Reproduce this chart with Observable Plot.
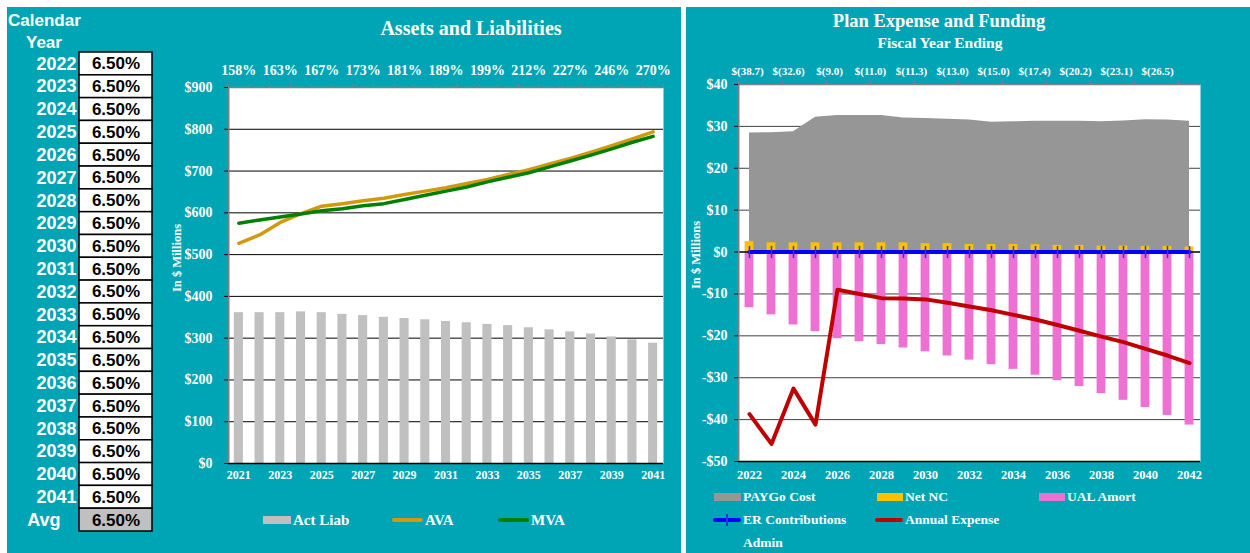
<!DOCTYPE html>
<html><head><meta charset="utf-8">
<script src="https://cdn.jsdelivr.net/npm/d3@7"></script>
<script src="https://cdn.jsdelivr.net/npm/@observablehq/plot@0.6"></script>
<style>
body{margin:0;background:#fff;}
#root{position:relative;width:1250px;height:553px;overflow:hidden;background:#fff;}
.panel{position:absolute;background:#00A5B5;}
.abs{position:absolute;white-space:nowrap;}
.serif{font-family:"Liberation Serif","Times New Roman",serif;font-weight:bold;color:#fff;line-height:1;}
.sans{font-family:"Liberation Sans",Arial,sans-serif;font-weight:bold;color:#fff;line-height:1;}
.leg{position:absolute;display:flex;align-items:center;height:20px;font-family:"Liberation Serif","Times New Roman",serif;font-weight:bold;color:#fff;white-space:nowrap;}
.sw{position:absolute;}
.plotbox{position:absolute;}
</style></head><body>
<div id="root">
  <div class="panel" style="left:7px;top:7px;width:674px;height:546px;"></div>
  <div class="panel" style="left:686px;top:7px;width:564px;height:546px;"></div>

  <div class="abs sans" style="left:8px;top:11.6px;font-size:17px;">Calendar</div>
  <div class="abs sans" style="left:26px;top:33.6px;font-size:17px;">Year</div>

  <div class="abs serif" style="left:271px;width:400px;text-align:center;top:18px;font-size:20px;">Assets and Liabilities</div>
  <div class="abs serif" style="left:739px;width:400px;text-align:center;top:11.8px;font-size:18.5px;">Plan Expense and Funding</div>
  <div class="abs serif" style="left:740px;width:400px;text-align:center;top:35.3px;font-size:15.5px;">Fiscal Year Ending</div>

  <div class="abs serif" style="left:177px;top:258px;font-size:12.5px;transform:translate(-50%,-50%) rotate(-90deg);">In $ Millions</div>
  <div class="abs serif" style="left:696px;top:255px;font-size:12.5px;transform:translate(-50%,-50%) rotate(-90deg);">In $ Millions</div>

  <div id="table" class="plotbox" style="left:0;top:0;"></div>
  <div id="mid" class="plotbox" style="left:160px;top:50px;"></div>
  <div id="right" class="plotbox" style="left:686px;top:60px;"></div>
  <div id="rightTop" class="plotbox" style="left:686px;top:58px;"></div>
  <div id="legends"></div>
</div>
<script>
// ---------- Data ----------
const rateYears = ["2022","2023","2024","2025","2026","2027","2028","2029","2030","2031","2032","2033","2034","2035","2036","2037","2038","2039","2040","2041"];
const rates = [6.5,6.5,6.5,6.5,6.5,6.5,6.5,6.5,6.5,6.5,6.5,6.5,6.5,6.5,6.5,6.5,6.5,6.5,6.5,6.5];
const avgRate = 6.5;

const alYears = [2021,2022,2023,2024,2025,2026,2027,2028,2029,2030,2031,2032,2033,2034,2035,2036,2037,2038,2039,2040,2041];
const actLiab = [361,361,361,363,361,357,354,350,347,344,340,337,333,330,325,320,315,310,303,296,288];
const ava = [527,547,577,598,616,622,629,635,644,652,660,670,680,692,703,717,730,745,761,777,794];
const mva = [575,583,590,597,605,610,617,622,632,642,652,662,674,685,696,710,724,738,753,769,783];
const fundedYears = [2021,2023,2025,2027,2029,2031,2033,2035,2037,2039,2041];
const fundedLabels = ["158%","163%","167%","173%","181%","189%","199%","212%","227%","246%","270%"];

const feYears = [2022,2023,2024,2025,2026,2027,2028,2029,2030,2031,2032,2033,2034,2035,2036,2037,2038,2039,2040,2041,2042];
const paygoCost = [28.4,28.5,28.7,32.2,32.6,32.6,32.6,32.0,31.9,31.7,31.5,31.0,31.1,31.25,31.25,31.2,31.1,31.3,31.6,31.5,31.2];
const netNC = [2.5,2.2,2.2,2.2,2.2,2.2,2.2,2.2,2.0,2.0,1.8,1.8,1.8,1.75,1.6,1.6,1.4,1.4,1.35,1.35,1.2];
const ualAmort = [-13.3,-15.0,-17.4,-19.0,-20.7,-21.4,-22.1,-22.9,-23.8,-24.8,-25.8,-26.9,-28.0,-29.4,-30.7,-32.1,-33.8,-35.4,-37.1,-39.0,-41.3];
const erContrib = [0,0,0,0,0,0,0,0,0,0,0,0,0,0,0,0,0,0,0,0,0];
const annualExpense = [-38.7,-45.8,-32.6,-41.2,-9.0,-10.0,-11.0,-11.1,-11.3,-12.1,-13.0,-13.9,-15.0,-16.1,-17.4,-18.8,-20.2,-21.5,-23.1,-24.7,-26.5];
const expenseLabelYears = [2022,2024,2026,2028,2030,2032,2034,2036,2038,2040,2042];

const SERIF = '"Liberation Serif","Times New Roman",serif';
const SANS = '"Liberation Sans",Arial,sans-serif';

// ---------- Left table ----------
const rows = rateYears.map((y, i) => ({label: y, rate: rates[i], avg: false}))
  .concat([{label: "Avg", rate: avgRate, avg: true}]);
const table = Plot.plot({
  width: 160, height: 553,
  marginLeft: 79, marginRight: 8, marginTop: 52, marginBottom: 22,
  style: {background: "transparent", fontFamily: SANS, fontWeight: "bold"},
  x: {axis: null},
  y: {type: "band", domain: rows.map(d => d.label), padding: 0, round: false, axis: null},
  marks: [
    Plot.cell(rows, {y: "label", fill: d => d.avg ? "#C0C0C0" : "white", stroke: "black", strokeWidth: 1.5}),
    Plot.text(rows, {y: "label", text: d => d.rate.toFixed(2) + "%", frameAnchor: "middle", fill: "black", fontSize: 17}),
    Plot.text(rows.filter(d => !d.avg), {y: "label", text: "label", frameAnchor: "left", textAnchor: "end", dx: -3, fill: "white", fontSize: 18}),
    Plot.text(rows.filter(d => d.avg), {y: "label", text: "label", frameAnchor: "left", textAnchor: "end", dx: -19, fill: "white", fontSize: 18})
  ]
});
document.getElementById("table").appendChild(table);

// ---------- Middle chart ----------
const alData = alYears.map((year, i) => ({year, liab: actLiab[i], ava: ava[i], mva: mva[i]}));
const oddYears = alYears.filter(y => y % 2 === 1);
const alBounds = alYears.map(y => y - 0.5).concat([alYears[alYears.length - 1] + 0.5]);
const mid = Plot.plot({
  width: 520, height: 440,
  marginLeft: 68, marginRight: 17, marginTop: 37, marginBottom: 27,
  style: {background: "transparent", fontFamily: SERIF, fontWeight: "bold", color: "white"},
  x: {type: "linear", domain: [alBounds[0], alBounds[alBounds.length - 1]]},
  y: {domain: [0, 900]},
  marks: [
    Plot.frame({fill: "white", stroke: null}),
    Plot.gridY({ticks: [100, 200, 300, 400, 500, 600, 700, 800], stroke: "black", strokeOpacity: 1}),
    Plot.rectY(alData, {x1: d => d.year - 0.22, x2: d => d.year + 0.22, y: "liab", fill: "#C0C0C0"}),
    Plot.ruleY([0], {stroke: "black", strokeWidth: 1.5}),
    Plot.ruleY([900], {stroke: "#808080", strokeWidth: 1.5}),
    Plot.ruleX([alBounds[0]], {stroke: "#808080", strokeWidth: 2}),
    Plot.line(alData, {x: "year", y: "ava", stroke: "#D4980F", strokeWidth: 3.5}),
    Plot.line(alData, {x: "year", y: "mva", stroke: "#008000", strokeWidth: 3.5}),
    Plot.axisY({ticks: [0,100,200,300,400,500,600,700,800,900], tickFormat: d => "$" + d, tickSize: 4, tickPadding: 12, stroke: "black", fill: "white", fontSize: 14, label: null}),
    Plot.axisX({anchor: "bottom", ticks: oddYears, tickFormat: d => String(d), tickSize: 0, tickPadding: 7, fill: "white", fontSize: 12, label: null}),
    Plot.axisX({anchor: "top", ticks: fundedYears, tickFormat: d => fundedLabels[fundedYears.indexOf(d)], tickSize: 0, tickPadding: 13, fill: "white", fontSize: 14, label: null}),
    Plot.axisX({anchor: "top", ticks: alBounds, tickFormat: () => "", tickSize: 4, stroke: "#808080", label: null})
  ]
});
document.getElementById("mid").appendChild(mid);

// ---------- Right chart ----------
const feData = feYears.map((year, i) => ({year, paygo: paygoCost[i], nc: netNC[i], ual: ualAmort[i], er: erContrib[i], exp: annualExpense[i]}));
const feBounds = feYears.map(y => y - 0.5).concat([feYears[feYears.length - 1] + 0.5]);
const evenYears = feYears.filter(y => y % 2 === 0);
const topBounds = feBounds.filter((b, i) => i % 2 === 0);
const vbar = {draw(ctx, size) { const h = Math.sqrt(size) * 0.85; ctx.moveTo(0, -h); ctx.lineTo(0, h); }};
const fmtMoney = d => d < 0 ? "-$" + (-d) : "$" + d;
const right = Plot.plot({
  width: 564, height: 430,
  marginLeft: 52, marginRight: 50, marginTop: 24, marginBottom: 29,
  style: {background: "transparent", fontFamily: SERIF, fontWeight: "bold", color: "white"},
  x: {type: "linear", domain: [feBounds[0], feBounds[feBounds.length - 1]]},
  y: {domain: [-50, 40]},
  marks: [
    Plot.frame({fill: "white", stroke: null}),
    Plot.gridY({ticks: [-40, -30, -20, -10, 10, 20, 30], stroke: "#404040", strokeOpacity: 1}),
    Plot.areaY(feData, {x: "year", y: "paygo", fill: "#969696"}),
    Plot.rectY(feData, {x1: d => d.year - 0.2, x2: d => d.year + 0.2, y: "nc", fill: "#FFC000"}),
    Plot.rectY(feData, {x1: d => d.year - 0.2, x2: d => d.year + 0.2, y: "ual", fill: "#EE70D2"}),
    Plot.ruleY([0], {stroke: "black", strokeWidth: 1.5}),
    Plot.ruleY([40], {stroke: "#808080", strokeWidth: 1.5}),
    Plot.ruleY([-50], {stroke: "black", strokeWidth: 1.5}),
    Plot.ruleX([feBounds[0]], {stroke: "#808080", strokeWidth: 2}),
    Plot.line(feData, {x: "year", y: "er", stroke: "#0000FF", strokeWidth: 4}),
    Plot.dot(feData, {x: "year", y: "er", symbol: vbar, r: 4, stroke: "#3333DD", strokeWidth: 1.5}),
    Plot.line(feData, {x: "year", y: "exp", stroke: "#C00000", strokeWidth: 4}),
    Plot.axisY({ticks: [-50,-40,-30,-20,-10,0,10,20,30,40], tickFormat: fmtMoney, tickSize: 4, tickPadding: 7, stroke: "black", fill: "white", fontSize: 14, label: null}),
    Plot.axisX({anchor: "bottom", ticks: evenYears, tickFormat: d => String(d), tickSize: 0, tickPadding: 9, fill: "white", fontSize: 12.5, label: null}),
    Plot.axisX({anchor: "top", ticks: topBounds, tickFormat: () => "", tickSize: 4, stroke: "#808080", label: null})
  ]
});
document.getElementById("right").appendChild(right);

// top labels: annual expense at even years
const expLabels = expenseLabelYears.map(y => ({year: y, v: annualExpense[feYears.indexOf(y)]}));
const rightTop = Plot.plot({
  width: 564, height: 26, margin: 0,
  style: {background: "transparent", fontFamily: SERIF, fontWeight: "bold", color: "white"},
  x: {type: "point", domain: expenseLabelYears, range: [60, 471], padding: 0, axis: null},
  marks: [
    Plot.text(expLabels, {x: "year", text: d => "$(" + Math.abs(d.v).toFixed(1) + ")", frameAnchor: "middle", fill: "white", fontSize: 11})
  ]
});
document.getElementById("rightTop").appendChild(rightTop);

// ---------- Legends ----------
const legends = document.getElementById("legends");
function addLegend(kind, color, label, y, swx0, swx1, fs) {
  const w = swx1 - swx0;
  if (kind === "rect" || kind === "line" || kind === "cross") {
    const sw = document.createElement("div");
    sw.className = "sw";
    if (kind === "rect") {
      sw.style.cssText = `left:${swx0}px;top:${y - 4}px;width:${w}px;height:8px;background:${color};`;
    } else {
      sw.style.cssText = `left:${swx0}px;top:${y - 2}px;width:${w}px;height:4px;border-radius:2px;background:${color};`;
    }
    legends.appendChild(sw);
  }
  if (kind === "cross") {
    const t = document.createElement("div");
    t.className = "sw";
    t.style.cssText = `left:${swx0 + w / 2 - 0.75}px;top:${y - 6}px;width:1.5px;height:12px;background:#3333DD;`;
    legends.appendChild(t);
  }
  const d = document.createElement("div");
  d.className = "leg";
  d.style.cssText += `left:${swx1 + 2}px;top:${y - 10}px;font-size:${fs}px;`;
  d.textContent = label;
  legends.appendChild(d);
}
addLegend("rect", "#C0C0C0", "Act Liab", 520, 263, 291, 15);
addLegend("line", "#D4980F", "AVA", 520, 392, 423, 15);
addLegend("line", "#008000", "MVA", 520, 498, 529, 15);

addLegend("rect", "#969696", "PAYGo Cost", 497, 714, 741, 13.5);
addLegend("rect", "#FFC000", "Net NC", 497, 877, 903, 13.5);
addLegend("rect", "#EE70D2", "UAL Amort", 497, 1039, 1065, 13.5);
addLegend("cross", "#0000FF", "ER Contributions", 520, 713, 741, 13.5);
addLegend("line", "#C00000", "Annual Expense", 520, 875, 903, 13.5);
addLegend("none", "", "Admin", 543, 713, 741, 13.5);
</script>
</body></html>
